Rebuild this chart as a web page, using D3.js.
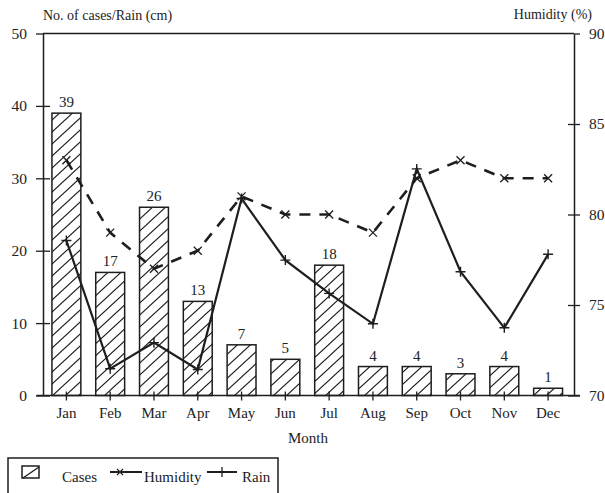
<!DOCTYPE html>
<html>
<head>
<meta charset="utf-8">
<script src="https://cdn.jsdelivr.net/npm/d3@7"></script>
<style>
html,body{margin:0;padding:0;background:#fff;}
svg{display:block;}
svg text{fill:#222;}
</style>
</head>
<body>
<svg id="chart" width="605" height="493" font-family="Liberation Serif"></svg>
<script>
const months = ["Jan","Feb","Mar","Apr","May","Jun","Jul","Aug","Sep","Oct","Nov","Dec"];
const cases = [39,17,26,13,7,5,18,4,4,3,4,1];
const humidity = [83,79,77,78,81,80,80,79,82,83,82,82];
const rain = [21.4,3.7,7.3,3.6,27.2,18.7,14.1,9.9,31.3,17.1,9.35,19.5];
const leftTicks = [0,10,20,30,40,50];
const rightTicks = [70,75,80,85,90];

const FONT = "Liberation Serif";
const ink = "#1e1e1e";
const svg = d3.select("#chart");
const defs = svg.append("defs");
const pat = defs.append("pattern").attr("id","hatch").attr("patternUnits","userSpaceOnUse")
  .attr("width",13).attr("height",12);
pat.append("rect").attr("width",13).attr("height",12).attr("fill","#fff");
pat.append("path").attr("d","M-1,12.923 L14,-0.923 M-14,12.923 L1,-0.923 M12,12.923 L27,-0.923")
  .attr("stroke",ink).attr("stroke-width",1.2);

const x = d3.scaleBand().domain(months).range([44.5,570]).paddingInner(0.34).paddingOuter(0.17);
const yL = d3.scaleLinear().domain([0,50]).range([395.5,33.5]);
const yR = d3.scaleLinear().domain([70,90]).range([395.5,33.5]);
const cx = d => x(d) + x.bandwidth()/2;

// top frame line
svg.append("line").attr("x1",43).attr("x2",574).attr("y1",yL(50)).attr("y2",yL(50))
  .attr("stroke",ink).attr("stroke-width",1.5);

// bars
svg.append("g").selectAll("rect").data(months).join("rect")
  .attr("x",d=>x(d)).attr("width",x.bandwidth())
  .attr("y",(d,i)=>yL(cases[i])).attr("height",(d,i)=>yL(0)-yL(cases[i]))
  .attr("fill","url(#hatch)").attr("stroke",ink).attr("stroke-width",1.5);

svg.append("g").selectAll("text").data(months).join("text")
  .attr("x",cx).attr("y",(d,i)=>yL(cases[i])-6)
  .attr("text-anchor","middle").attr("font-size",15).attr("font-family",FONT).text((d,i)=>cases[i]);

// left axis
const gL = svg.append("g").attr("transform","translate(43,0)")
  .call(d3.axisLeft(yL).tickValues(leftTicks).tickSize(7).tickSizeOuter(0).tickPadding(9));
gL.attr("font-family",FONT);
gL.select(".domain").attr("stroke",ink).attr("stroke-width",1.5);
gL.selectAll(".tick line").attr("x1",d=>d===50?0:7).attr("x2",-7).attr("stroke",ink).attr("stroke-width",1.3);
gL.selectAll(".tick text").attr("font-size",15.5).attr("fill","#222");

// right axis
const gR = svg.append("g").attr("transform","translate(574,0)")
  .call(d3.axisRight(yR).tickValues(rightTicks).tickSize(6).tickSizeOuter(0).tickPadding(9));
gR.attr("font-family",FONT);
gR.select(".domain").attr("stroke",ink).attr("stroke-width",1.5);
gR.selectAll(".tick line").attr("x1",d=>d===90?0:-6).attr("x2",6).attr("stroke",ink).attr("stroke-width",1.3);
gR.selectAll(".tick text").attr("font-size",15.5).attr("fill","#222");

// x axis
svg.append("line").attr("x1",36.5).attr("x2",580).attr("y1",yL(0)).attr("y2",yL(0))
  .attr("stroke",ink).attr("stroke-width",1.5);
const gX = svg.append("g").attr("transform",`translate(0,${yL(0)})`)
  .call(d3.axisBottom(x).tickSize(5).tickSizeOuter(0));
gX.attr("font-family",FONT);
gX.select(".domain").remove();
gX.selectAll(".tick line").attr("y1",-4).attr("y2",5).attr("stroke",ink).attr("stroke-width",1.3);
gX.selectAll(".tick text").attr("y",22.5).attr("dy",0).attr("font-size",15).attr("fill","#222");

// humidity line (dashed)
const hLine = d3.line().x((d,i)=>cx(months[i])).y(d=>yR(d));
svg.append("path").datum(humidity).attr("d",hLine).attr("fill","none")
  .attr("stroke",ink).attr("stroke-width",2.6).attr("stroke-dasharray","11,9");
svg.append("g").selectAll("path").data(humidity).join("path")
  .attr("d",(d,i)=>{const px=cx(months[i]),py=yR(d),s=4;return `M${px-s},${py-s}L${px+s},${py+s}M${px-s},${py+s}L${px+s},${py-s}`;})
  .attr("stroke",ink).attr("stroke-width",1.3).attr("fill","none");

// rain line
const rLine = d3.line().x((d,i)=>cx(months[i])).y(d=>yL(d));
svg.append("path").datum(rain).attr("d",rLine).attr("fill","none")
  .attr("stroke",ink).attr("stroke-width",2.2);
svg.append("g").selectAll("path").data(rain).join("path")
  .attr("d",(d,i)=>{const px=cx(months[i]),py=yL(d),s=5;return `M${px-s},${py}L${px+s},${py}M${px},${py-s}L${px},${py+s}`;})
  .attr("stroke",ink).attr("stroke-width",1.4).attr("fill","none");

// titles
svg.append("text").attr("x",43).attr("y",20).attr("font-size",14).attr("font-family",FONT).text("No. of cases/Rain (cm)");
svg.append("text").attr("x",592).attr("y",19).attr("text-anchor","end").attr("font-size",14).attr("font-family",FONT).text("Humidity (%)");
svg.append("text").attr("x",308).attr("y",443).attr("text-anchor","middle").attr("font-size",15).attr("font-family",FONT).text("Month");

// legend
const lg = svg.append("g").attr("font-family",FONT);
lg.append("rect").attr("x",8).attr("y",458).attr("width",270).attr("height",45)
  .attr("fill","none").attr("stroke",ink).attr("stroke-width",1.5);
lg.append("rect").attr("x",22).attr("y",466).attr("width",17).attr("height",12)
  .attr("fill","#fff").attr("stroke",ink).attr("stroke-width",1.5);
lg.append("line").attr("x1",23).attr("y1",478).attr("x2",39).attr("y2",467).attr("stroke",ink).attr("stroke-width",1.3);
lg.append("text").attr("x",62).attr("y",482).attr("font-size",15).text("Cases");
lg.append("line").attr("x1",110).attr("x2",142).attr("y1",472).attr("y2",472).attr("stroke",ink).attr("stroke-width",2);
lg.append("path").attr("d","M117,469L123,475M117,475L123,469").attr("stroke",ink).attr("stroke-width",1.2);
lg.append("text").attr("x",144).attr("y",482).attr("font-size",15).text("Humidity");
lg.append("line").attr("x1",207).attr("x2",237).attr("y1",472).attr("y2",472).attr("stroke",ink).attr("stroke-width",2);
lg.append("path").attr("d","M222,467L222,477").attr("stroke",ink).attr("stroke-width",1.3);
lg.append("text").attr("x",242).attr("y",482).attr("font-size",15).text("Rain");
</script>
</body>
</html>
